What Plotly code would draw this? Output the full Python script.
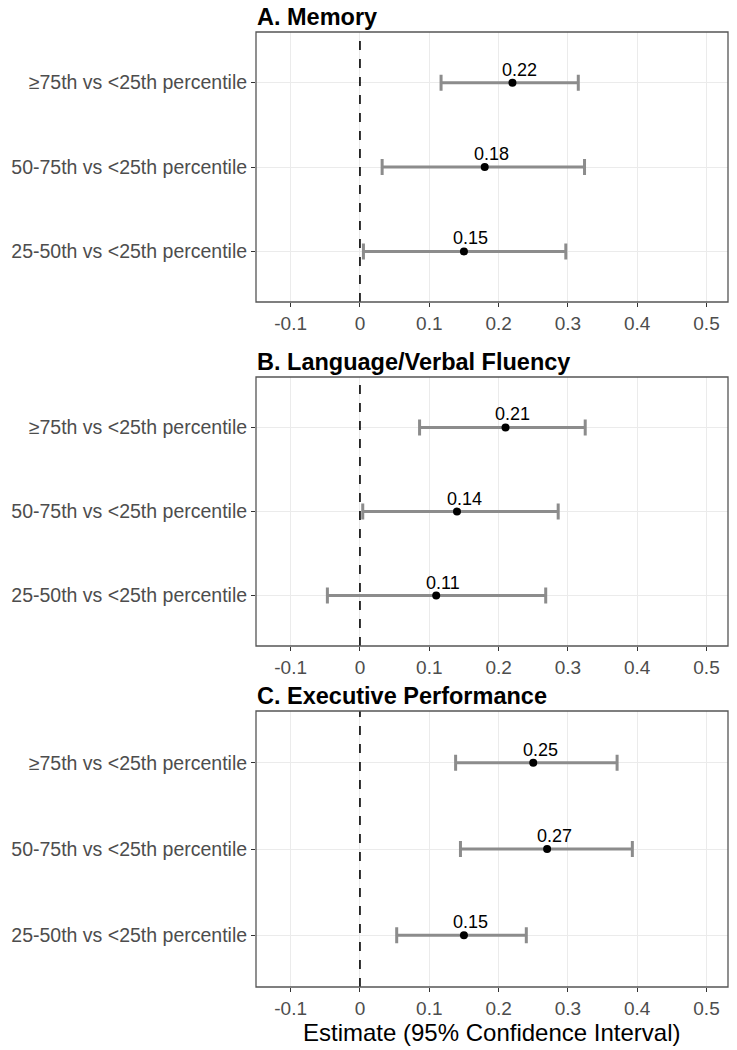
import plotly.graph_objects as go

categories = ["25-50th vs <25th percentile", "50-75th vs <25th percentile", "≥75th vs <25th percentile"]
panel_titles = ["A. Memory", "B. Language/Verbal Fluency", "C. Executive Performance"]
x_title = "Estimate (95% Confidence Interval)"

memory_est = [0.15, 0.18, 0.22]
memory_lo = [0.005, 0.032, 0.117]
memory_hi = [0.297, 0.324, 0.315]

language_est = [0.11, 0.14, 0.21]
language_lo = [-0.047, 0.004, 0.086]
language_hi = [0.268, 0.286, 0.325]

exec_est = [0.15, 0.27, 0.25]
exec_lo = [0.053, 0.145, 0.138]
exec_hi = [0.240, 0.393, 0.371]

x_ticks = [-0.1, 0, 0.1, 0.2, 0.3, 0.4, 0.5]
x_tick_labels = ["-0.1", "0", "0.1", "0.2", "0.3", "0.4", "0.5"]

panels = [
    (memory_est, memory_lo, memory_hi),
    (language_est, language_lo, language_hi),
    (exec_est, exec_lo, exec_hi),
]

W, H = 737, 1050
x0px, x1px = 256, 728
boxes = [(32, 302), (377, 646), (711, 987)]

FONT = "Liberation Sans, Arial, sans-serif"
fig = go.Figure()
layout = dict(
    width=W, height=H, margin=dict(l=0, r=0, t=0, b=0),
    paper_bgcolor="white", plot_bgcolor="white", showlegend=False,
    font=dict(family=FONT, color="#4D4D4D"),
)
annotations = []
shapes = []
ypos = [1, 2, 3]
for i, ((est, lo, hi), (top, bot)) in enumerate(zip(panels, boxes)):
    n = "" if i == 0 else str(i + 1)
    xa, ya = "x" + n, "y" + n
    fig.add_trace(go.Scatter(
        x=est, y=ypos, xaxis=xa, yaxis=ya, mode="markers",
        marker=dict(color="rgba(0,0,0,0)", size=1),
        error_x=dict(type="data", symmetric=False,
                     array=[h - e for h, e in zip(hi, est)],
                     arrayminus=[e - l for e, l in zip(est, lo)],
                     color="#8C8C8C", thickness=3, width=8),
        hoverinfo="skip"))
    fig.add_trace(go.Scatter(
        x=est, y=ypos, xaxis=xa, yaxis=ya, mode="markers",
        marker=dict(color="black", size=8), hoverinfo="skip"))
    for e, yv in zip(est, ypos):
        annotations.append(dict(x=e, y=yv, xref=xa, yref=ya, text=f"{e:.2f}",
                                showarrow=False, xshift=7, yshift=13,
                                font=dict(size=18, color="black", family=FONT)))
    shapes.append(dict(type="line", xref=xa, yref=ya + " domain", x0=0, x1=0, y0=0, y1=1,
                       line=dict(color="black", width=1.6, dash="dash")))
    shapes.append(dict(type="rect", xref="x" + n + " domain", yref=ya + " domain",
                       x0=0, x1=1, y0=0, y1=1, line=dict(color="#555555", width=1.3)))
    annotations.append(dict(x=(x0px - 1) / W, y=1 - top / H, xref="paper", yref="paper",
                            xanchor="left", yanchor="bottom", text="<b>" + panel_titles[i] + "</b>",
                            showarrow=False, font=dict(size=23.5, color="black", family=FONT)))
    layout["xaxis" + n] = dict(
        domain=[x0px / W, x1px / W], range=[-0.15, 0.531], anchor=ya, automargin=False,
        tickvals=x_ticks, ticktext=x_tick_labels, ticks="outside", ticklen=4,
        tickcolor="#333333", tickfont=dict(size=19, color="#4D4D4D"),
        showgrid=True, gridcolor="#EBEBEB", gridwidth=1.2, zeroline=False, showline=False,
    )
    layout["yaxis" + n] = dict(
        domain=[1 - bot / H, 1 - top / H], range=[0.4, 3.6], anchor=xa, automargin=False,
        tickvals=ypos, ticktext=categories, ticks="outside", ticklen=4,
        tickcolor="#333333", tickfont=dict(size=19.5, color="#4D4D4D"),
        showgrid=True, gridcolor="#EBEBEB", gridwidth=1.2, zeroline=False, showline=False,
    )
annotations.append(dict(x=(x0px + x1px) / 2 / W, y=1 - 1032 / H, xref="paper", yref="paper",
                        xanchor="center", yanchor="middle", text=x_title, showarrow=False,
                        font=dict(size=24, color="black", family=FONT)))
layout["annotations"] = annotations
layout["shapes"] = shapes
fig.update_layout(**layout)
fig.write_html("out.html", config={"displayModeBar": False},
               post_script="document.body.style.margin='0';document.body.style.overflow='hidden';")
